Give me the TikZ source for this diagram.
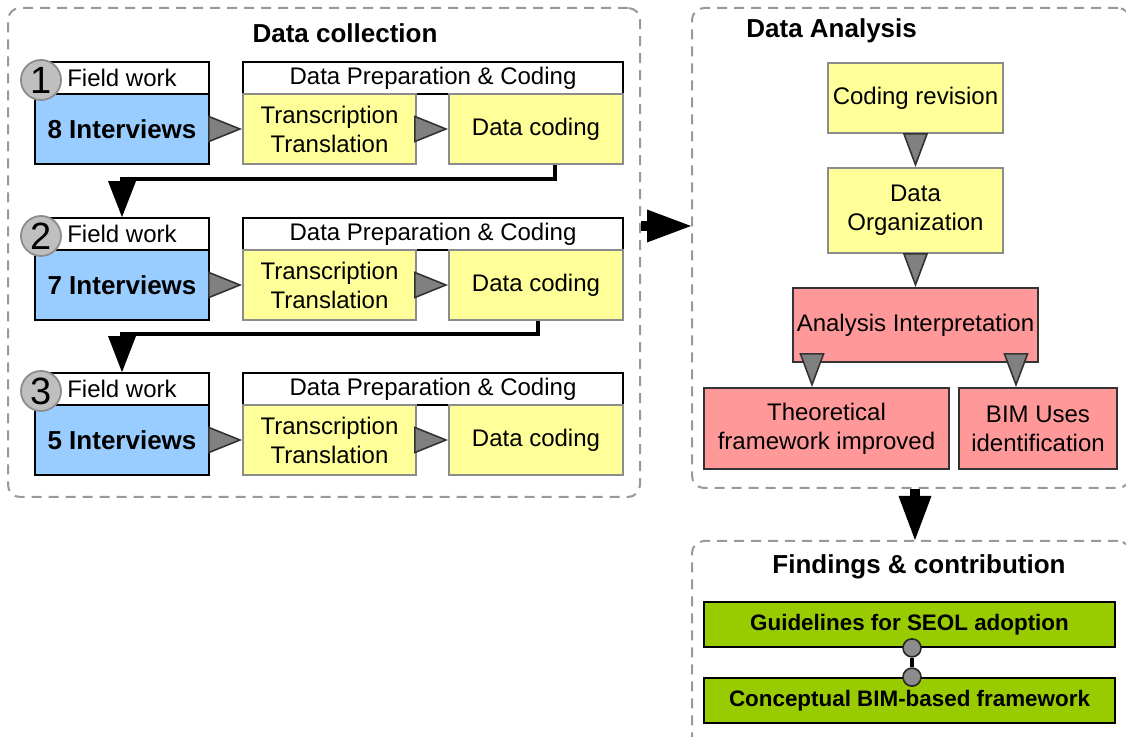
\documentclass[tikz,border=0pt]{standalone}
\usepackage{fontspec}
\setmainfont{Liberation Sans}
\usepackage{xcolor}
\usetikzlibrary{arrows.meta}
\definecolor{fieldblue}{HTML}{99CCFF}
\definecolor{prepyellow}{HTML}{FFFF99}
\definecolor{anapink}{HTML}{FF9999}
\definecolor{findgreen}{HTML}{99CC00}

\tikzset{
  box/.style={draw, line width=0.9pt, inner sep=1pt, align=center, font=\fontsize{12}{14.5}\selectfont},
  headbox/.style={box, fill=white, minimum height=16pt},
  fieldbox/.style={box, fill=fieldblue, minimum width=87pt, minimum height=35pt, font=\fontsize{13}{15}\selectfont\bfseries},
  prepbox/.style={box, draw=black!45, fill=prepyellow, minimum height=35pt},
  anabox/.style={box, draw=black!80, fill=anapink, minimum height=40.5pt},
  findbox/.style={box, fill=findgreen, minimum width=205.5pt, minimum height=22.5pt, font=\fontsize{11.2}{13}\selectfont\bfseries},
  group/.style={draw=black!40, dash pattern=on 5pt off 3.5pt, line width=1pt, rounded corners=6pt},
  grouptitle/.style={inner sep=0pt, font=\fontsize{13}{15}\selectfont\bfseries},
  numdot/.style={circle, draw=black!45, fill=black!25, line width=0.9pt, minimum size=20pt, inner sep=0pt, font=\fontsize{19}{19}\selectfont},
  linkdot/.style={circle, draw=black!85, fill=black!45, line width=0.8pt, minimum size=9pt, inner sep=0pt},
  tri/.style={draw=black!80, line width=0.8pt, -{Triangle[length=17pt,width=13.5pt,fill=black!50]}},
  tridown/.style={tri, -{Triangle[length=17pt,width=12.5pt,fill=black!50]}},
  flow/.style={line width=2pt, -{Triangle[length=18pt,width=14pt,line width=0pt]}},
  bigflow/.style={line width=5pt, -{Triangle[length=22pt,width=16.5pt,line width=0pt]}}
}

\begin{document}
\begin{tikzpicture}[x=0.5pt,y=-0.5pt]
\useasboundingbox (0,0) rectangle (1126,737);
\node[group, minimum width=316pt, minimum height=244.5pt] (coll) at (324,252.5) {};
\node[group, minimum width=219pt, minimum height=240pt] (ana) at (911,248) {};
\node[group, minimum width=219pt, minimum height=104.5pt] (find) at (911,645.5) {};
\node[grouptitle] (colltitle) at (345,33) {Data collection};
\node[grouptitle, anchor=west] (anatitle) at (746,31) {Data Analysis};
\node[grouptitle] (findtitle) at (919,567) {Findings \& contribution};

\node[headbox, minimum width=87pt] (fw1) at (122,78) {Field work};
\node[fieldbox] (iv1) at (122,129) {8 Interviews};
\node[numdot] (n1) at (41,80) {1};
\node[headbox, minimum width=190pt] (dp1) at (433,78) {Data Preparation \& Coding};
\node[prepbox, minimum width=86.5pt] (tr1) at (329.5,129) {Transcription\\Translation};
\node[prepbox, minimum width=87pt] (dc1) at (536,129) {Data coding};
\draw[tri] (iv1.east) -- (tr1.west);
\draw[tri] (tr1.east) -- (dc1.west);

\node[headbox, minimum width=87pt] (fw2) at (122,234) {Field work};
\node[fieldbox] (iv2) at (122,285) {7 Interviews};
\node[numdot] (n2) at (41,236) {2};
\node[headbox, minimum width=190pt] (dp2) at (433,234) {Data Preparation \& Coding};
\node[prepbox, minimum width=86.5pt] (tr2) at (329.5,285) {Transcription\\Translation};
\node[prepbox, minimum width=87pt] (dc2) at (536,285) {Data coding};
\draw[tri] (iv2.east) -- (tr2.west);
\draw[tri] (tr2.east) -- (dc2.west);

\node[headbox, minimum width=87pt] (fw3) at (122,389) {Field work};
\node[fieldbox] (iv3) at (122,440) {5 Interviews};
\node[numdot] (n3) at (41,391) {3};
\node[headbox, minimum width=190pt] (dp3) at (433,389) {Data Preparation \& Coding};
\node[prepbox, minimum width=86.5pt] (tr3) at (329.5,440) {Transcription\\Translation};
\node[prepbox, minimum width=87pt] (dc3) at (536,440) {Data coding};
\draw[tri] (iv3.east) -- (tr3.west);
\draw[tri] (tr3.east) -- (dc3.west);

\draw[flow] ([xshift=9.5pt]dc1.south) -- ++(0,14) -| (fw2.north);
\draw[flow] ([xshift=1pt]dc2.south) -- ++(0,13) -| (fw3.north);

\node[prepbox, minimum width=87.5pt] (cr) at (915.5,98) {Coding revision};
\node[prepbox, minimum width=87.5pt, minimum height=42.5pt] (dor) at (915.5,210.5) {Data\\Organization};
\node[anabox, minimum width=122.5pt, minimum height=37pt] (ai) at (915.5,325) {Analysis Interpretation};
\node[anabox, minimum width=122.5pt] (th) at (826.5,428.5) {Theoretical\\framework improved};
\node[anabox, minimum width=79pt] (bim) at (1038,428.5) {BIM Uses\\identification};
\draw[tridown] (cr.south) -- (dor.north);
\draw[tridown] (dor.south) -- (ai.north);
\draw[tridown] ([xshift=-51.75pt,yshift=4pt]ai.south) coordinate (s1) -- (s1 |- th.north);
\draw[tridown] ([xshift=50.25pt,yshift=4pt]ai.south) coordinate (s2) -- (s2 |- bim.north);

\node[findbox] (g1) at (909.5,624.5) {Guidelines for SEOL adoption};
\node[findbox] (g2) at (909.5,700.5) {Conceptual BIM-based framework};
\node[linkdot] (d1) at ([xshift=1.25pt]g1.south) {};
\node[linkdot] (d2) at ([xshift=1.25pt]g2.north) {};
\draw[line width=2pt] (d1) -- (d2);

\draw[bigflow] ([yshift=13.25pt]coll.east) coordinate (a1) -- (a1 -| ana.west);
\draw[bigflow] ([xshift=2pt]ana.south) coordinate (a2) -- (a2 |- find.north);
\end{tikzpicture}
\end{document}
